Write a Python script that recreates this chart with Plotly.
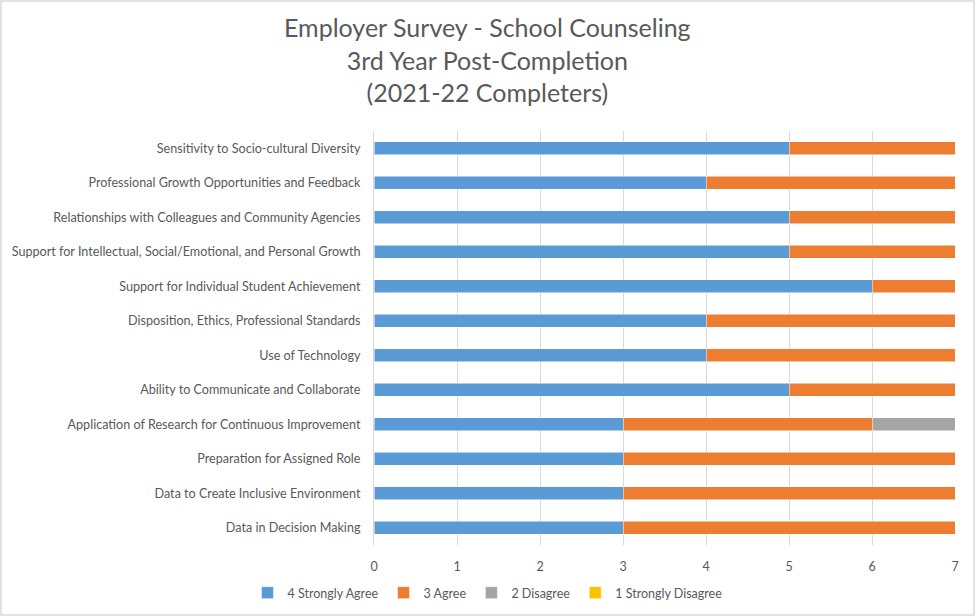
import plotly.graph_objects as go

categories = [
    "Sensitivity to Socio-cultural Diversity",
    "Professional Growth Opportunities and Feedback",
    "Relationships with Colleagues and Community Agencies",
    "Support for Intellectual, Social/Emotional, and Personal Growth",
    "Support for Individual Student Achievement",
    "Disposition, Ethics, Professional Standards",
    "Use of Technology",
    "Ability to Communicate and Collaborate",
    "Application of Research for Continuous Improvement",
    "Preparation for Assigned Role",
    "Data to Create Inclusive Environment",
    "Data in Decision Making",
]
strongly_agree = [5, 4, 5, 5, 6, 4, 4, 5, 3, 3, 3, 3]
agree = [2, 3, 2, 2, 1, 3, 3, 2, 3, 4, 4, 4]
disagree = [0, 0, 0, 0, 0, 0, 0, 0, 1, 0, 0, 0]
strongly_disagree = [0, 0, 0, 0, 0, 0, 0, 0, 0, 0, 0, 0]

series = [
    ("4 Strongly Agree", strongly_agree, "#5B9BD5"),
    ("3 Agree", agree, "#ED7D31"),
    ("2 Disagree", disagree, "#A5A5A5"),
    ("1 Strongly Disagree", strongly_disagree, "#FFC000"),
]

FONT = "Lato, 'Open Sans', sans-serif"
GRAY = "#595959"

fig = go.Figure()
for name, vals, color in series:
    fig.add_trace(go.Bar(
        y=categories, x=vals, name=name, orientation="h",
        marker=dict(color=color, line=dict(color="white", width=0.5)),
    ))

W, H = 975, 616
ml, mr, mt, mb = 374, 20, 131, 71
pw, ph = W - ml - mr, H - mt - mb

fig.update_layout(
    width=W, height=H,
    barmode="stack", bargap=0.62,
    paper_bgcolor="white", plot_bgcolor="white",
    margin=dict(l=ml, r=mr, t=mt, b=mb, autoexpand=False),
    font=dict(family=FONT, color=GRAY, size=12),
    xaxis=dict(
        range=[0, 7], dtick=1, showgrid=True, gridcolor="#D9D9D9", gridwidth=1,
        zeroline=False, showline=False, ticks="", tickfont=dict(size=12.5, color=GRAY),
        ticklabelstandoff=12, automargin=False,
    ),
    yaxis=dict(
        autorange="reversed", showgrid=False, zeroline=False,
        showline=True, linecolor="#D9D9D9", linewidth=1,
        ticks="outside", ticklen=10, tickcolor="rgba(0,0,0,0)",
        tickfont=dict(size=12.6, color=GRAY), automargin=False,
    ),
    legend=dict(
        orientation="h", xref="container", yref="container",
        x=0.5, xanchor="center", y=1 - 593 / H, yanchor="middle",
        font=dict(size=12.5, color=GRAY), traceorder="normal",
    ),
    showlegend=True,
)

# title as annotation (three lines)
fig.add_annotation(
    text="Employer Survey - School Counseling<br>3rd Year Post-Completion<br>(2021-22 Completers)",
    xref="paper", yref="paper",
    x=(W / 2 - ml) / pw, xanchor="center",
    y=1 + (mt - 10) / ph, yanchor="top",
    showarrow=False, align="center",
    font=dict(family=FONT, size=25, color=GRAY),
)

# outer chart border
fig.add_shape(
    type="rect", xref="paper", yref="paper",
    x0=(1 - ml) / pw, x1=(W - 1 - ml) / pw,
    y0=-(mb - 1) / ph, y1=1 + (mt - 1) / ph,
    line=dict(color="#D9D9D9", width=1.5), fillcolor="rgba(0,0,0,0)",
    layer="below",
)

fig.write_html("out.html")
